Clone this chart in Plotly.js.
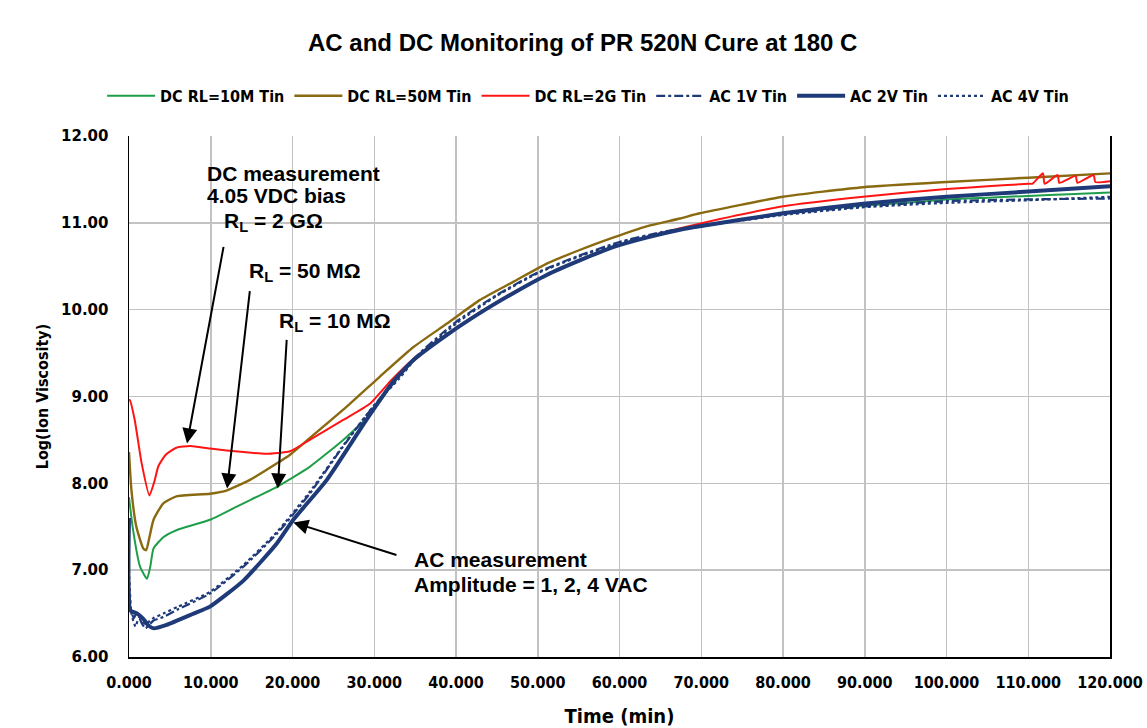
<!DOCTYPE html>
<html>
<head>
<meta charset="utf-8">
<script src="https://cdn.plot.ly/plotly-3.0.1.min.js"></script>
<style>html,body{margin:0;padding:0;background:#fff;}#chart{width:1147px;height:728px;}</style>
</head>
<body>
<div id="chart"></div>
<script>
// ---- Data (time in min, log ion viscosity) ----
const seriesNames = ["DC RL=10M Tin", "DC RL=50M Tin", "DC RL=2G Tin", "AC 1V Tin", "AC 2V Tin", "AC 4V Tin"];

const dc10mTime = [0, 0.5, 1.35, 2.2, 2.6, 3.0, 4.2, 5.8, 9.9, 14.0, 18.1, 22.1, 26.2, 29.5, 32.3, 34.8, 38.9, 42.9, 47.0, 51.1, 55.2, 59.2, 63.3, 67.4, 70, 80, 85, 90, 95, 100, 105, 110, 115, 120];
const dc10mVal  = [7.84, 7.46, 7.04, 6.90, 7.04, 7.25, 7.38, 7.46, 7.58, 7.77, 7.96, 8.19, 8.50, 8.79, 9.15, 9.41, 9.71, 9.96, 10.19, 10.40, 10.57, 10.72, 10.83, 10.92, 10.96, 11.11, 11.16, 11.20, 11.23, 11.27, 11.29, 11.31, 11.33, 11.35];

const dc50mTime = [0, 0.3, 0.9, 1.75, 2.1, 2.5, 3.0, 4.2, 5.8, 9.9, 12.0, 14.8, 18.1, 19.7, 22.1, 26.6, 30.7, 34.8, 38.9, 42.9, 47.0, 51.1, 55.2, 59.2, 63.3, 67.4, 69.8, 80, 89.8, 100, 110, 120];
const dc50mVal  = [8.36, 7.92, 7.50, 7.25, 7.23, 7.38, 7.58, 7.77, 7.85, 7.88, 7.92, 8.04, 8.23, 8.33, 8.52, 8.88, 9.23, 9.57, 9.84, 10.11, 10.32, 10.53, 10.69, 10.83, 10.96, 11.05, 11.11, 11.30, 11.41, 11.47, 11.52, 11.57];

const dc2gTime = [0, 0.1, 0.7, 1.55, 2.5, 3.1, 3.6, 4.5, 5.8, 7.5, 9.9, 14.0, 16.8, 19.7, 22.1, 26.2, 29.5, 32.2, 35, 40, 45, 50, 55, 60, 65, 69.8, 80, 89.8, 100, 105, 110, 110.5, 111.8, 112.0, 113.6, 113.8, 115.8, 116.0, 118.0, 118.2, 120];
const dc2gVal  = [8.96, 8.96, 8.73, 8.23, 7.86, 8.02, 8.20, 8.33, 8.41, 8.43, 8.40, 8.36, 8.34, 8.37, 8.50, 8.73, 8.92, 9.20, 9.45, 9.79, 10.09, 10.35, 10.56, 10.74, 10.88, 10.99, 11.19, 11.30, 11.39, 11.42, 11.45, 11.45, 11.57, 11.45, 11.55, 11.46, 11.54, 11.46, 11.55, 11.47, 11.48];

const ac1vTime = [0, 0.2, 0.6, 1.0, 1.5, 2.0, 3.0, 4.2, 6, 9.9, 14.0, 18.1, 22.1, 26, 30, 33, 35, 40, 45, 50, 55, 60, 65, 70, 80, 90, 100, 110, 120];
const ac1vVal  = [6.90, 6.55, 6.45, 6.52, 6.40, 6.33, 6.42, 6.46, 6.55, 6.73, 7.04, 7.42, 7.88, 8.40, 8.90, 9.22, 9.45, 9.86, 10.17, 10.43, 10.62, 10.78, 10.89, 10.97, 11.10, 11.19, 11.25, 11.27, 11.28];

const ac2vTime = [0, 0.1, 0.5, 1.0, 1.75, 2.3, 3.0, 4.6, 7.9, 9.9, 14.0, 18.1, 20.1, 24.2, 29.1, 32.3, 34.8, 38.9, 42.9, 47.0, 51.1, 55.2, 59.2, 63.3, 67.4, 69.8, 80, 89.8, 100, 110, 120];
const ac2vVal  = [7.60, 6.54, 6.52, 6.50, 6.44, 6.37, 6.33, 6.37, 6.50, 6.58, 6.88, 7.31, 7.58, 8.04, 8.74, 9.17, 9.42, 9.71, 9.96, 10.19, 10.40, 10.57, 10.72, 10.83, 10.92, 10.96, 11.11, 11.22, 11.30, 11.36, 11.42];

const ac4vTime = [0, 0.3, 0.8, 1.2, 2.0, 3.0, 4.2, 6, 9.9, 14, 18.1, 22.1, 26, 30, 33, 35, 40, 45, 50, 55, 60, 65, 70, 80, 90, 100, 110, 120];
const ac4vVal  = [7.00, 6.50, 6.35, 6.45, 6.38, 6.45, 6.50, 6.58, 6.75, 7.06, 7.44, 7.90, 8.41, 8.90, 9.20, 9.43, 9.84, 10.16, 10.42, 10.61, 10.77, 10.88, 10.96, 11.09, 11.18, 11.23, 11.26, 11.30];

const xTickVals = [0, 10, 20, 30, 40, 50, 60, 70, 80, 90, 100, 110, 120];
const xTickText = ["0.000", "10.000", "20.000", "30.000", "40.000", "50.000", "60.000", "70.000", "80.000", "90.000", "100.000", "110.000", "120.000"];
const yTickVals = [6, 7, 8, 9, 10, 11, 12];
const yTickText = ["6.00", "7.00", "8.00", "9.00", "10.00", "11.00", "12.00"];

// ---- Styles ----
const NARROW = "DejaVu Sans Condensed, Liberation Sans Narrow, Liberation Sans, sans-serif";
const ARIAL = "Liberation Sans, Arial, sans-serif";
const NAVY = "#1f3a78";

function tr(x, y, name, color, width, dash) {
  return {x: x, y: y, name: name, type: "scatter", mode: "lines",
    line: {color: color, width: width, dash: dash, shape: "spline", smoothing: 0.5}};
}

const traces = [
  tr(dc10mTime, dc10mVal, seriesNames[0], "#1f9e4a", 2, "solid"),
  tr(dc50mTime, dc50mVal, seriesNames[1], "#8a6a10", 2.4, "solid"),
  tr(dc2gTime, dc2gVal, seriesNames[2], "#ff1414", 2, "solid"),
  tr(ac1vTime, ac1vVal, seriesNames[3], NAVY, 2.2, "dashdot"),
  tr(ac2vTime, ac2vVal, seriesNames[4], NAVY, 4, "solid"),
  tr(ac4vTime, ac4vVal, seriesNames[5], NAVY, 2.2, "dot")
];

const annFont = {family: ARIAL, size: 21, color: "#000"};
function label(x, y, text) {
  return {x: x, y: y, xref: "x", yref: "y", text: "<b>" + text + "</b>", showarrow: false,
    xanchor: "left", yanchor: "middle", font: annFont, align: "left"};
}
function arrow(tx, ty, hx, hy) {
  return {x: hx, y: hy, ax: tx, ay: ty, xref: "x", yref: "y", axref: "x", ayref: "y",
    text: "", showarrow: true, arrowhead: 2, arrowsize: 1.5, arrowwidth: 2, arrowcolor: "#000"};
}

const annotations = [
  label(9.3, 11.57, "DC measurement"),
  label(9.3, 11.31, "4.05 VDC bias"),
  label(11.4, 11.01, "R<sub>L</sub> = 2 GΩ"),
  label(14.4, 10.43, "R<sub>L</sub> = 50 MΩ"),
  label(18.1, 9.86, "R<sub>L</sub> = 10 MΩ"),
  label(34.6, 7.12, "AC measurement"),
  label(34.6, 6.83, "Amplitude = 1, 2, 4 VAC"),
  arrow(11.6, 10.74, 7.1, 8.46),
  arrow(14.8, 10.23, 12.0, 7.94),
  arrow(19.3, 9.67, 18.2, 7.94),
  arrow(32.9, 7.17, 20.1, 7.55)
];

const layout = {
  width: 1147, height: 728,
  margin: {l: 129, r: 37, t: 136, b: 71},
  paper_bgcolor: "#fff", plot_bgcolor: "#fff",
  title: {text: "<b>AC and DC Monitoring of PR 520N Cure at 180 C</b>", x: 0.508, xanchor: "center", y: 0.941, yanchor: "middle",
    font: {family: ARIAL, size: 24, color: "#000"}},
  showlegend: true,
  legend: {orientation: "h", x: 0.468, xanchor: "center", y: 1.077, yanchor: "middle",
    font: {family: NARROW, size: 16, color: "#000", weight: "bold"}, itemwidth: 48, bgcolor: "rgba(0,0,0,0)", traceorder: "normal"},
  xaxis: {range: [0, 120], tickvals: xTickVals, ticktext: xTickText, showgrid: true, gridcolor: "#c2c2c2", gridwidth: 1.5,
    showline: true, linecolor: "#000", linewidth: 1.5, mirror: false, zeroline: false, ticks: "",
    ticklabelstandoff: 10,
    tickfont: {family: NARROW, size: 16, color: "#000", weight: "bold"},
    title: {text: "<b>Time (min)</b>", font: {family: NARROW, size: 20, color: "#000"}, standoff: 18}},
  yaxis: {range: [6, 12], tickvals: yTickVals, ticktext: yTickText, showgrid: true, gridcolor: "#c2c2c2", gridwidth: 1.5,
    showline: true, linecolor: "#000", linewidth: 1.5, mirror: true, zeroline: false, ticks: "",
    ticklabelstandoff: 16,
    tickfont: {family: "DejaVu Sans, Verdana, sans-serif", size: 15, color: "#000", weight: "bold"},
    title: {text: "<b>Log(Ion Viscosity)</b>", font: {family: NARROW, size: 16, color: "#000"}, standoff: 8}},
  annotations: annotations
};

Plotly.newPlot("chart", traces, layout, {displayModeBar: false, staticPlot: true});
</script>
</body>
</html>
